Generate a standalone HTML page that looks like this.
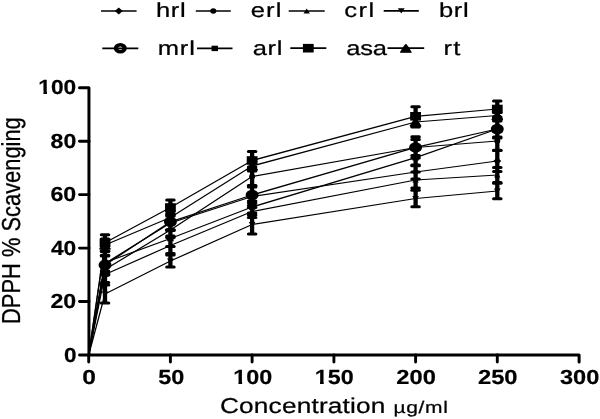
<!DOCTYPE html>
<html><head><meta charset="utf-8"><style>
html,body{margin:0;padding:0;background:#fff;}
svg{display:block;filter:blur(0.3px);}
text{font-family:"Liberation Sans",sans-serif;fill:#000;text-rendering:geometricPrecision;}
</style></head><body>
<svg width="600" height="419" viewBox="0 0 600 419">
<rect width="600" height="419" fill="#fff"/>
<g><path d="M101.0 11.0H136.6" stroke="#000" stroke-width="1.7"/><path d="M114.80 11.00L118.80 7.60L122.80 11.00L118.80 14.40Z"/><text transform="translate(155.88 17.3) scale(1.26 1)" font-size="20.3" stroke="#000" stroke-width="0.238" stroke-linejoin="round" letter-spacing="0.579">hrl</text><path d="M195.8 11.0H230.8" stroke="#000" stroke-width="1.7"/><ellipse cx="213.30" cy="11.00" rx="3.0" ry="2.8"/><text transform="translate(250.76 17.3) scale(1.26 1)" font-size="20.3" stroke="#000" stroke-width="0.238" stroke-linejoin="round" letter-spacing="0.902">erl</text><path d="M288.7 11.0H324.7" stroke="#000" stroke-width="1.7"/><path d="M303.50 13.40L306.70 8.40L309.90 13.40Z"/><text transform="translate(344.16 17.3) scale(1.26 1)" font-size="20.3" stroke="#000" stroke-width="0.238" stroke-linejoin="round" letter-spacing="1.194">crl</text><path d="M383.7 10.8H418.8" stroke="#000" stroke-width="1.7"/><path d="M397.85 8.20L401.25 13.60L404.65 8.20Z"/><text transform="translate(438.90 17.3) scale(1.26 1)" font-size="20.3" stroke="#000" stroke-width="0.238" stroke-linejoin="round" letter-spacing="0.569">brl</text><path d="M102.3 48.3H138.3" stroke="#000" stroke-width="1.7"/><path fill-rule="evenodd" d="M113.80 48.30a6.5 5.2 0 1 0 13.0 0a6.5 5.2 0 1 0 -13.0 0ZM118.10 48.30a2.2 1.7 0 1 0 4.4 0a2.2 1.7 0 1 0 -4.4 0Z"/><text transform="translate(157.65 55.0) scale(1.26 1)" font-size="20.3" stroke="#000" stroke-width="0.238" stroke-linejoin="round" letter-spacing="0.676">mrl</text><path d="M197.0 48.3H232.5" stroke="#000" stroke-width="1.7"/><rect x="211.55" y="45.70" width="6.4" height="5.4"/><text transform="translate(252.76 55.0) scale(1.26 1)" font-size="20.3" stroke="#000" stroke-width="0.238" stroke-linejoin="round" letter-spacing="0.505">arl</text><path d="M290.3 48.2H326.3" stroke="#000" stroke-width="1.7"/><rect x="302.90" y="43.90" width="10.8" height="8.6"/><text transform="translate(346.16 55.0) scale(1.26 1)" font-size="20.3" stroke="#000" stroke-width="0.238" stroke-linejoin="round" letter-spacing="-0.180">asa</text><path d="M387.5 48.2H424.2" stroke="#000" stroke-width="1.7"/><path d="M400.55 52.20Q403.25 47.20 405.85 44.50Q408.45 47.20 411.15 52.20Z" stroke="#000" stroke-width="1.1" stroke-linejoin="round"/><text transform="translate(443.55 55.0) scale(1.26 1)" font-size="20.3" stroke="#000" stroke-width="0.238" stroke-linejoin="round" letter-spacing="0.922">rt</text></g>
<g><path d="M79.5 87.8H88.95V355H579.1V362" fill="none" stroke="#000" stroke-width="3.0" stroke-linejoin="round" stroke-linecap="round"/><path d="M79.5 355.0H89" stroke="#000" stroke-width="2.9" stroke-linecap="round"/><path d="M79.5 301.5H89" stroke="#000" stroke-width="2.9" stroke-linecap="round"/><path d="M79.5 248.1H89" stroke="#000" stroke-width="2.9" stroke-linecap="round"/><path d="M79.5 194.6H89" stroke="#000" stroke-width="2.9" stroke-linecap="round"/><path d="M79.5 141.2H89" stroke="#000" stroke-width="2.9" stroke-linecap="round"/><path d="M88.7 355V362" stroke="#000" stroke-width="2.9" stroke-linecap="round"/><path d="M170.4 355V362" stroke="#000" stroke-width="2.9" stroke-linecap="round"/><path d="M252.1 355V362" stroke="#000" stroke-width="2.9" stroke-linecap="round"/><path d="M333.9 355V362" stroke="#000" stroke-width="2.9" stroke-linecap="round"/><path d="M415.6 355V362" stroke="#000" stroke-width="2.9" stroke-linecap="round"/><path d="M497.3 355V362" stroke="#000" stroke-width="2.9" stroke-linecap="round"/></g>
<g fill="none" stroke="#000" stroke-width="1.25" stroke-linejoin="round"><polyline points="88.7,355.0 105.0,242.8 170.4,207.5 252.1,160.5 415.6,116.3 497.3,109.0"/><polyline points="88.7,355.0 105.0,245.0 170.4,217.5 252.1,166.0 415.6,122.0 497.3,115.5"/><polyline points="88.7,355.0 105.0,269.5 170.4,230.0 252.1,176.5 415.6,147.5 497.3,141.0"/><polyline points="88.7,355.0 105.0,265.0 170.4,221.8 252.1,195.0 415.6,147.4 497.3,129.0"/><polyline points="88.7,355.0 105.0,262.5 170.4,238.5 252.1,207.0 415.6,157.7 497.3,129.0"/><polyline points="88.7,355.0 105.0,263.5 170.4,223.0 252.1,196.5 415.6,172.0 497.3,161.0"/><polyline points="88.7,355.0 105.0,274.5 170.4,245.5 252.1,211.5 415.6,180.0 497.3,175.0"/><polyline points="88.7,355.0 105.0,294.0 170.4,261.0 252.1,224.5 415.6,198.5 497.3,191.0"/></g>
<path d="M105.0 234.8V250.8M170.4 200.0V215.0M252.1 151.5V169.5M415.6 106.8V125.8M497.3 101.0V117.0M105.0 239.0V251.0M170.4 211.5V223.5M252.1 161.0V171.0M415.6 117.0V127.0M497.3 112.5V118.5M105.0 264.0V275.0M170.4 224.0V236.0M252.1 167.0V186.0M415.6 139.5V155.5M497.3 131.7V150.3M105.0 255.4V274.6M170.4 213.8V229.8M252.1 187.0V203.0M415.6 136.9V157.9M497.3 120.0V138.0M105.0 251.5V273.5M170.4 230.5V246.5M252.1 201.0V213.0M415.6 149.7V165.7M497.3 121.0V137.0M105.0 256.0V271.0M170.4 216.0V230.0M252.1 185.5V207.5M415.6 165.0V179.0M497.3 150.5V171.5M105.0 266.5V282.5M170.4 237.5V253.5M252.1 205.5V217.5M415.6 172.0V188.0M497.3 167.5V182.5M105.0 285.0V303.0M170.4 255.0V267.0M252.1 215.0V234.0M415.6 190.2V206.8M497.3 183.3V198.7" stroke="#000" stroke-width="4.3" fill="none"/>
<g fill="#000"><rect x="99.79" y="233.25" width="10.5" height="3.1" rx="1.55"/><rect x="99.79" y="249.25" width="10.5" height="3.1" rx="1.55"/><rect x="165.17" y="198.45" width="10.5" height="3.1" rx="1.55"/><rect x="165.17" y="213.45" width="10.5" height="3.1" rx="1.55"/><rect x="246.88" y="149.95" width="10.5" height="3.1" rx="1.55"/><rect x="246.88" y="167.95" width="10.5" height="3.1" rx="1.55"/><rect x="410.32" y="105.25" width="10.5" height="3.1" rx="1.55"/><rect x="410.32" y="124.25" width="10.5" height="3.1" rx="1.55"/><rect x="492.03" y="99.45" width="10.5" height="3.1" rx="1.55"/><rect x="492.03" y="115.45" width="10.5" height="3.1" rx="1.55"/><rect x="99.79" y="237.45" width="10.5" height="3.1" rx="1.55"/><rect x="99.79" y="249.45" width="10.5" height="3.1" rx="1.55"/><rect x="165.17" y="209.95" width="10.5" height="3.1" rx="1.55"/><rect x="165.17" y="221.95" width="10.5" height="3.1" rx="1.55"/><rect x="246.88" y="159.45" width="10.5" height="3.1" rx="1.55"/><rect x="246.88" y="169.45" width="10.5" height="3.1" rx="1.55"/><rect x="410.32" y="115.45" width="10.5" height="3.1" rx="1.55"/><rect x="410.32" y="125.45" width="10.5" height="3.1" rx="1.55"/><rect x="492.03" y="110.95" width="10.5" height="3.1" rx="1.55"/><rect x="492.03" y="116.95" width="10.5" height="3.1" rx="1.55"/><rect x="99.79" y="262.45" width="10.5" height="3.1" rx="1.55"/><rect x="99.79" y="273.45" width="10.5" height="3.1" rx="1.55"/><rect x="165.17" y="222.45" width="10.5" height="3.1" rx="1.55"/><rect x="165.17" y="234.45" width="10.5" height="3.1" rx="1.55"/><rect x="246.88" y="165.45" width="10.5" height="3.1" rx="1.55"/><rect x="246.88" y="184.45" width="10.5" height="3.1" rx="1.55"/><rect x="410.32" y="137.95" width="10.5" height="3.1" rx="1.55"/><rect x="410.32" y="153.95" width="10.5" height="3.1" rx="1.55"/><rect x="492.03" y="130.15" width="10.5" height="3.1" rx="1.55"/><rect x="492.03" y="148.75" width="10.5" height="3.1" rx="1.55"/><rect x="99.79" y="253.85" width="10.5" height="3.1" rx="1.55"/><rect x="99.79" y="273.05" width="10.5" height="3.1" rx="1.55"/><rect x="165.17" y="212.25" width="10.5" height="3.1" rx="1.55"/><rect x="165.17" y="228.25" width="10.5" height="3.1" rx="1.55"/><rect x="246.88" y="185.45" width="10.5" height="3.1" rx="1.55"/><rect x="246.88" y="201.45" width="10.5" height="3.1" rx="1.55"/><rect x="410.32" y="135.35" width="10.5" height="3.1" rx="1.55"/><rect x="410.32" y="156.35" width="10.5" height="3.1" rx="1.55"/><rect x="492.03" y="118.45" width="10.5" height="3.1" rx="1.55"/><rect x="492.03" y="136.45" width="10.5" height="3.1" rx="1.55"/><rect x="99.79" y="249.95" width="10.5" height="3.1" rx="1.55"/><rect x="99.79" y="271.95" width="10.5" height="3.1" rx="1.55"/><rect x="165.17" y="228.95" width="10.5" height="3.1" rx="1.55"/><rect x="165.17" y="244.95" width="10.5" height="3.1" rx="1.55"/><rect x="246.88" y="199.45" width="10.5" height="3.1" rx="1.55"/><rect x="246.88" y="211.45" width="10.5" height="3.1" rx="1.55"/><rect x="410.32" y="148.15" width="10.5" height="3.1" rx="1.55"/><rect x="410.32" y="164.15" width="10.5" height="3.1" rx="1.55"/><rect x="492.03" y="119.45" width="10.5" height="3.1" rx="1.55"/><rect x="492.03" y="135.45" width="10.5" height="3.1" rx="1.55"/><rect x="99.79" y="254.45" width="10.5" height="3.1" rx="1.55"/><rect x="99.79" y="269.45" width="10.5" height="3.1" rx="1.55"/><rect x="165.17" y="214.45" width="10.5" height="3.1" rx="1.55"/><rect x="165.17" y="228.45" width="10.5" height="3.1" rx="1.55"/><rect x="246.88" y="183.95" width="10.5" height="3.1" rx="1.55"/><rect x="246.88" y="205.95" width="10.5" height="3.1" rx="1.55"/><rect x="410.32" y="163.45" width="10.5" height="3.1" rx="1.55"/><rect x="410.32" y="177.45" width="10.5" height="3.1" rx="1.55"/><rect x="492.03" y="148.95" width="10.5" height="3.1" rx="1.55"/><rect x="492.03" y="169.95" width="10.5" height="3.1" rx="1.55"/><rect x="99.79" y="264.95" width="10.5" height="3.1" rx="1.55"/><rect x="99.79" y="280.95" width="10.5" height="3.1" rx="1.55"/><rect x="165.17" y="235.95" width="10.5" height="3.1" rx="1.55"/><rect x="165.17" y="251.95" width="10.5" height="3.1" rx="1.55"/><rect x="246.88" y="203.95" width="10.5" height="3.1" rx="1.55"/><rect x="246.88" y="215.95" width="10.5" height="3.1" rx="1.55"/><rect x="410.32" y="170.45" width="10.5" height="3.1" rx="1.55"/><rect x="410.32" y="186.45" width="10.5" height="3.1" rx="1.55"/><rect x="492.03" y="165.95" width="10.5" height="3.1" rx="1.55"/><rect x="492.03" y="180.95" width="10.5" height="3.1" rx="1.55"/><rect x="99.79" y="283.45" width="10.5" height="3.1" rx="1.55"/><rect x="99.79" y="301.45" width="10.5" height="3.1" rx="1.55"/><rect x="165.17" y="253.45" width="10.5" height="3.1" rx="1.55"/><rect x="165.17" y="265.45" width="10.5" height="3.1" rx="1.55"/><rect x="246.88" y="213.45" width="10.5" height="3.1" rx="1.55"/><rect x="246.88" y="232.45" width="10.5" height="3.1" rx="1.55"/><rect x="410.32" y="188.65" width="10.5" height="3.1" rx="1.55"/><rect x="410.32" y="205.25" width="10.5" height="3.1" rx="1.55"/><rect x="492.03" y="181.75" width="10.5" height="3.1" rx="1.55"/><rect x="492.03" y="197.15" width="10.5" height="3.1" rx="1.55"/></g>
<g fill="#000"><rect x="99.64" y="238.50" width="10.8" height="8.6"/><rect x="165.02" y="203.20" width="10.8" height="8.6"/><rect x="246.73" y="156.20" width="10.8" height="8.6"/><rect x="410.17" y="112.00" width="10.8" height="8.6"/><rect x="491.88" y="104.70" width="10.8" height="8.6"/><path d="M99.74 249.00Q102.44 244.00 105.04 241.30Q107.64 244.00 110.34 249.00Z" stroke="#000" stroke-width="1.1" stroke-linejoin="round"/><path d="M165.12 221.50Q167.82 216.50 170.42 213.80Q173.02 216.50 175.72 221.50Z" stroke="#000" stroke-width="1.1" stroke-linejoin="round"/><path d="M246.83 170.00Q249.53 165.00 252.13 162.30Q254.73 165.00 257.43 170.00Z" stroke="#000" stroke-width="1.1" stroke-linejoin="round"/><path d="M410.27 126.00Q412.97 121.00 415.57 118.30Q418.17 121.00 420.87 126.00Z" stroke="#000" stroke-width="1.1" stroke-linejoin="round"/><path d="M491.98 119.50Q494.68 114.50 497.28 111.80Q499.88 114.50 502.58 119.50Z" stroke="#000" stroke-width="1.1" stroke-linejoin="round"/><ellipse cx="105.04" cy="269.50" rx="3.0" ry="2.8"/><ellipse cx="170.42" cy="230.00" rx="3.0" ry="2.8"/><ellipse cx="252.13" cy="176.50" rx="3.0" ry="2.8"/><ellipse cx="415.57" cy="147.50" rx="3.0" ry="2.8"/><ellipse cx="497.28" cy="141.00" rx="3.0" ry="2.8"/><path fill-rule="evenodd" d="M98.54 265.00a6.5 5.2 0 1 0 13.0 0a6.5 5.2 0 1 0 -13.0 0ZM102.84 265.00a2.2 1.7 0 1 0 4.4 0a2.2 1.7 0 1 0 -4.4 0Z"/><path fill-rule="evenodd" d="M163.92 221.80a6.5 5.2 0 1 0 13.0 0a6.5 5.2 0 1 0 -13.0 0ZM168.22 221.80a2.2 1.7 0 1 0 4.4 0a2.2 1.7 0 1 0 -4.4 0Z"/><path fill-rule="evenodd" d="M245.63 195.00a6.5 5.2 0 1 0 13.0 0a6.5 5.2 0 1 0 -13.0 0ZM249.93 195.00a2.2 1.7 0 1 0 4.4 0a2.2 1.7 0 1 0 -4.4 0Z"/><path fill-rule="evenodd" d="M409.07 147.40a6.5 5.2 0 1 0 13.0 0a6.5 5.2 0 1 0 -13.0 0ZM413.37 147.40a2.2 1.7 0 1 0 4.4 0a2.2 1.7 0 1 0 -4.4 0Z"/><path fill-rule="evenodd" d="M490.78 129.00a6.5 5.2 0 1 0 13.0 0a6.5 5.2 0 1 0 -13.0 0ZM495.08 129.00a2.2 1.7 0 1 0 4.4 0a2.2 1.7 0 1 0 -4.4 0Z"/><rect x="101.84" y="259.90" width="6.4" height="5.4"/><rect x="167.22" y="235.90" width="6.4" height="5.4"/><rect x="248.93" y="204.40" width="6.4" height="5.4"/><rect x="412.37" y="155.10" width="6.4" height="5.4"/><rect x="494.08" y="126.40" width="6.4" height="5.4"/><path d="M101.04 263.50L105.04 260.10L109.04 263.50L105.04 266.90Z"/><path d="M166.42 223.00L170.42 219.60L174.42 223.00L170.42 226.40Z"/><path d="M248.13 196.50L252.13 193.10L256.13 196.50L252.13 199.90Z"/><path d="M411.57 172.00L415.57 168.60L419.57 172.00L415.57 175.40Z"/><path d="M493.28 161.00L497.28 157.60L501.28 161.00L497.28 164.40Z"/><path d="M101.84 276.90L105.04 271.90L108.24 276.90Z"/><path d="M167.22 247.90L170.42 242.90L173.62 247.90Z"/><path d="M248.93 213.90L252.13 208.90L255.33 213.90Z"/><path d="M412.37 182.40L415.57 177.40L418.77 182.40Z"/><path d="M494.08 177.40L497.28 172.40L500.48 177.40Z"/><path d="M101.64 291.40L105.04 296.80L108.44 291.40Z"/><path d="M167.02 258.40L170.42 263.80L173.82 258.40Z"/><path d="M248.73 221.90L252.13 227.30L255.53 221.90Z"/><path d="M412.17 195.90L415.57 201.30L418.97 195.90Z"/><path d="M493.88 188.40L497.28 193.80L500.68 188.40Z"/></g>
<g><text x="63.91" y="361.5" font-size="20.4" font-weight="bold" stroke="#000" stroke-width="0.2" stroke-linejoin="round" textLength="12.51" lengthAdjust="spacingAndGlyphs">0</text><text x="50.50" y="308.0" font-size="20.4" font-weight="bold" stroke="#000" stroke-width="0.2" stroke-linejoin="round" textLength="25.75" lengthAdjust="spacingAndGlyphs">20</text><text x="50.96" y="254.6" font-size="20.4" font-weight="bold" stroke="#000" stroke-width="0.2" stroke-linejoin="round" textLength="25.28" lengthAdjust="spacingAndGlyphs">40</text><text x="50.45" y="201.1" font-size="20.4" font-weight="bold" stroke="#000" stroke-width="0.2" stroke-linejoin="round" textLength="25.80" lengthAdjust="spacingAndGlyphs">60</text><text x="50.57" y="147.7" font-size="20.4" font-weight="bold" stroke="#000" stroke-width="0.2" stroke-linejoin="round" textLength="25.68" lengthAdjust="spacingAndGlyphs">80</text><text x="38.37" y="94.2" font-size="20.4" font-weight="bold" stroke="#000" stroke-width="0.2" stroke-linejoin="round" textLength="37.86" lengthAdjust="spacingAndGlyphs">100</text><rect x="38.80" y="91.12" width="4.62" height="4.08" fill="#fff"/><rect x="47.02" y="91.12" width="4.33" height="4.08" fill="#fff"/><text x="82.23" y="384" font-size="20.4" font-weight="bold" stroke="#000" stroke-width="0.2" stroke-linejoin="round" textLength="13.68" lengthAdjust="spacingAndGlyphs">0</text><text x="158.18" y="384" font-size="20.4" font-weight="bold" stroke="#000" stroke-width="0.2" stroke-linejoin="round" textLength="26.08" lengthAdjust="spacingAndGlyphs">50</text><text x="233.23" y="384" font-size="20.4" font-weight="bold" stroke="#000" stroke-width="0.2" stroke-linejoin="round" textLength="38.93" lengthAdjust="spacingAndGlyphs">100</text><rect x="233.67" y="380.92" width="4.75" height="4.08" fill="#fff"/><rect x="242.13" y="380.92" width="4.45" height="4.08" fill="#fff"/><text x="314.83" y="384" font-size="20.4" font-weight="bold" stroke="#000" stroke-width="0.2" stroke-linejoin="round" textLength="38.93" lengthAdjust="spacingAndGlyphs">150</text><rect x="315.27" y="380.92" width="4.75" height="4.08" fill="#fff"/><rect x="323.73" y="380.92" width="4.45" height="4.08" fill="#fff"/><text x="396.38" y="384" font-size="20.4" font-weight="bold" stroke="#000" stroke-width="0.2" stroke-linejoin="round" textLength="39.49" lengthAdjust="spacingAndGlyphs">200</text><text x="477.98" y="384" font-size="20.4" font-weight="bold" stroke="#000" stroke-width="0.2" stroke-linejoin="round" textLength="39.60" lengthAdjust="spacingAndGlyphs">250</text><text x="559.96" y="384" font-size="20.4" font-weight="bold" stroke="#000" stroke-width="0.2" stroke-linejoin="round" textLength="39.31" lengthAdjust="spacingAndGlyphs">300</text></g>
<g><text transform="translate(219.92 413) scale(1.22 1)" font-size="21.5" stroke="#000" stroke-width="0.246" stroke-linejoin="round" letter-spacing="0.152">Concentration</text><text transform="translate(393.61 413) scale(1.25 1)" font-size="16.8" stroke="#000" stroke-width="0.240" stroke-linejoin="round" letter-spacing="0.494">µg/ml</text><g transform="translate(20.0 322.3) rotate(-90)"><text x="-1.64" y="0" font-size="26" stroke="#000" stroke-width="0.3" stroke-linejoin="round" textLength="206.70" lengthAdjust="spacingAndGlyphs">DPPH % Scavenging</text></g></g>
</svg>
</body></html>
